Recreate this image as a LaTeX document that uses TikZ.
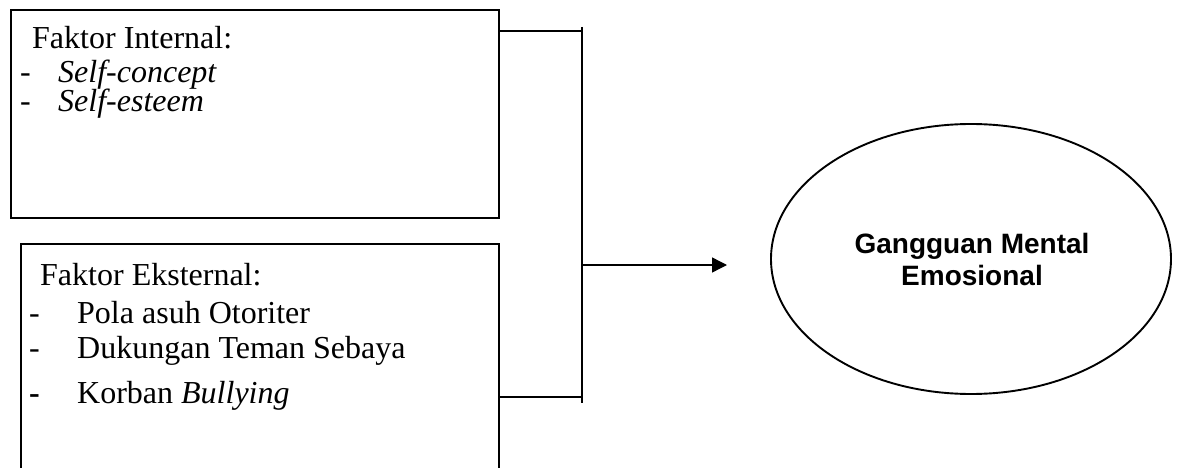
\documentclass[tikz,border=0pt]{standalone}
\usepackage{fontspec}
\setmainfont{Liberation Serif}
\newfontfamily\arialb{Liberation Sans}
\usetikzlibrary{arrows.meta,shapes.geometric}
\begin{document}
\begin{tikzpicture}[x=1pt,y=-1pt,
  box/.style={draw,line width=1.9pt,inner sep=0pt,anchor=north west},
  conn/.style={line width=1.4pt},
  txt/.style={font=\fontsize{32}{36}\selectfont,anchor=base west,inner sep=0pt},
  etxt/.style={font=\arialb\bfseries\fontsize{28}{31}\selectfont,anchor=base,inner sep=0pt},
  oval/.style={draw,ellipse,line width=1.9pt,inner sep=0pt,minimum width=400pt,minimum height=270pt}]
\useasboundingbox (0,0) rectangle (1179,468);
% box 1
\node[box,minimum width=488pt,minimum height=208pt] (b1) at (10,9) {};
\node[txt] (t1) at (32,49) {Faktor Internal:};
\node[txt] (d1) at (20,83) {-};
\node[txt] (i1) at (58,83) {\itshape Self-concept};
\node[txt] (d2) at (20,112) {-};
\node[txt] (i2) at (58,112) {\itshape Self-esteem};
% box 2
\begin{scope}
\clip (0,0) rectangle (1179,468);
\node[box,minimum width=478pt,minimum height=240pt] (b2) at (20,243) {};
\end{scope}
\node[txt] (t2) at (40,285) {Faktor Eksternal:};
\node[txt] (d3) at (29,323) {-};
\node[txt] (i3) at (77,323) {Pola asuh Otoriter};
\node[txt] (d4) at (29,358) {-};
\node[txt] (i4) at (77,358) {Dukungan Teman Sebaya};
\node[txt] (d5) at (29,403) {\bfseries -};
\node[txt] (i5) at (77,403) {Korban \itshape Bullying};
% ellipse
\node[oval] (e) at (971,259) {};
\node[etxt] (e1) at (972,254) {Gangguan Mental};
\node[etxt] (e2) at (972,285) {Emosional};
% connectors
\coordinate (top) at (582,27);
\coordinate (bot) at (582,403);
\coordinate (mid) at (582,265);
\coordinate (tip) at (727,265);
\draw[conn] (b1.east |- 0,31) -- (582,31);
\draw[conn] (b2.east |- 0,397) -- (582,397);
\draw[conn] (top) -- (bot);
\draw[conn,-{Triangle[length=15pt,width=15pt]}] (mid) -- (tip);
\end{tikzpicture}
\end{document}
